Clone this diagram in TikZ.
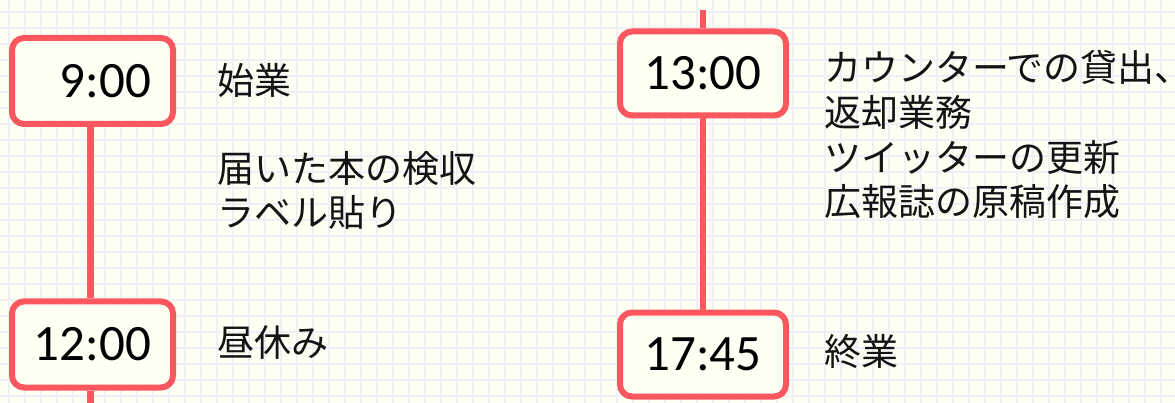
\documentclass[tikz,border=0pt]{standalone}
\usepackage{fontspec}
\setmainfont{Carlito}
\newfontfamily\jp{Noto Sans CJK JP}
\definecolor{bgcream}{RGB}{255,255,244}
\definecolor{gridc}{RGB}{239,239,244}
\definecolor{tlred}{RGB}{250,88,94}
\definecolor{txt}{RGB}{20,20,20}
\begin{document}
\begin{tikzpicture}[x=1pt,y=-1pt,
  timebox/.style={draw=tlred, line width=6pt, fill=bgcream, rounded corners=12pt,
    minimum width=161pt, minimum height=86pt, inner sep=0pt, text=black,
    font=\fontsize{51}{51}\selectfont},
  timeboxr/.style={timebox, minimum width=166pt, minimum height=84pt},
  tline/.style={draw=tlred, line width=6.5pt},
  label/.style={anchor=base west, inner sep=0pt, text=txt, align=left,
    font=\jp\fontsize{37}{44.7}\selectfont}]
\fill[bgcream] (0,0) rectangle (1175,403);
\useasboundingbox (0,0) rectangle (1175,403);
\foreach \k in {0,...,72} \draw[gridc, line width=2pt] (8.7+16*\k,0) -- (8.7+16*\k,403);
\foreach \k in {0,...,24} \draw[gridc, line width=2pt] (0,12.3+16*\k) -- (1175,12.3+16*\k);
\coordinate (rtop) at (703,10);
\coordinate (lbot) at (90.7,403);
\node[timebox] (t9) at (92.5,81) {\phantom{1}9:00};
\node[timebox] (t12) at (92.5,344.5) {12:00};
\node[timeboxr] (t13) at (703,73.5) {13:00};
\node[timeboxr] (t17) at (703,354.5) {17:45};
\draw[tline] ([xshift=-1.8pt]t9.south) -- ([xshift=-1.8pt]t12.north);
\draw[tline] ([xshift=-1.8pt]t12.south) -- (lbot);
\draw[tline] (rtop) -- (t13.north);
\draw[tline] (t13.south) -- (t17.north);
% labels (base anchor = baseline of the last line)
\node[label] (l1) at (217,95) {始業};
\node[label] (l2) at (217,227) {届いた本の検収\\ラベル貼り};
\node[label] (l3) at (217,356) {昼休み};
\node[label] (r1) at (824,216) {カウンターでの貸出\makebox[0.4em][l]{、}\\返却業務\\ツイッターの更新\\広報誌の原稿作成};
\node[label] (r2) at (824,365) {終業};
\end{tikzpicture}
\end{document}
